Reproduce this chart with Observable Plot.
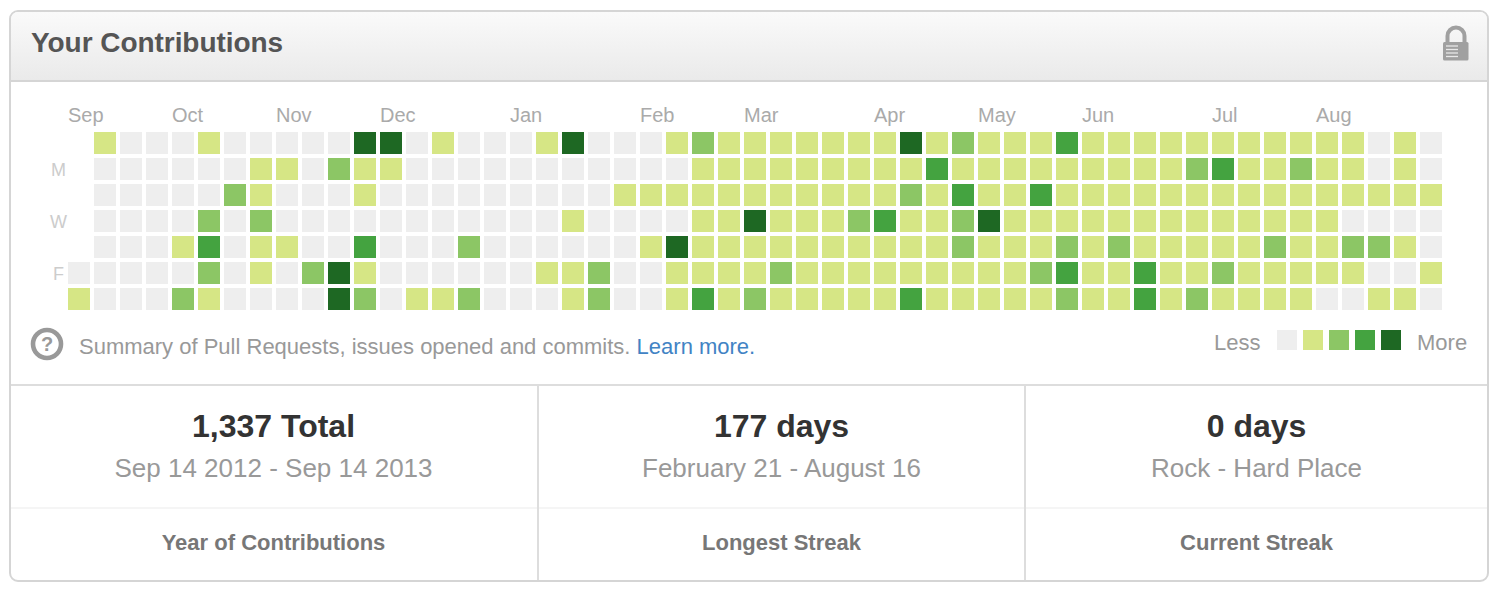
<!DOCTYPE html>
<html>
<head>
<meta charset="utf-8">
<script src="https://cdn.jsdelivr.net/npm/d3@7"></script>
<script src="https://cdn.jsdelivr.net/npm/@observablehq/plot@0.6"></script>
<style>
html,body{margin:0;padding:0;background:#fff;width:1500px;height:594px;overflow:hidden;font-family:"Liberation Sans",Arial,sans-serif;}
#stage{position:absolute;left:0;top:0;width:1500px;height:594px;}
.abs{position:absolute;white-space:nowrap;}
.box{position:absolute;box-sizing:border-box;}
</style>
</head>
<body>
<div id="stage"></div>
<script>
const sun = [null,1,0,0,0,1,0,0,0,0,0,4,4,0,1,0,0,0,1,4,0,0,0,1,2,1,1,1,1,1,1,1,4,1,2,1,1,1,3,1,1,1,1,1,1,1,1,1,1,1,0,1,0];
const mon = [null,0,0,0,0,0,0,1,1,0,2,1,1,0,0,0,0,0,0,0,0,0,0,0,1,1,1,1,1,1,1,1,1,3,1,1,1,1,1,1,1,1,1,2,3,1,1,2,1,1,0,1,0];
const tue = [null,0,0,0,0,0,2,1,0,0,0,1,0,0,0,0,0,0,0,0,0,1,1,1,1,1,1,1,1,1,1,1,2,1,3,1,1,3,1,1,1,1,1,1,1,1,1,1,1,1,1,1,1];
const wed = [null,0,0,0,0,2,0,2,0,0,0,0,0,0,0,0,0,0,0,1,0,0,0,0,1,1,4,1,1,1,2,3,1,1,2,4,1,1,1,1,1,1,1,1,1,1,1,1,1,0,0,0,0];
const thu = [null,0,0,0,1,3,0,1,1,0,0,3,0,0,0,2,0,0,0,0,0,0,1,4,1,1,1,1,1,1,1,1,1,1,2,1,1,1,2,1,2,1,1,1,1,1,2,1,1,2,2,1,0];
const fri = [0,0,0,0,0,2,0,1,0,2,4,1,0,0,0,0,0,0,1,1,2,0,0,1,1,1,1,2,1,1,1,1,1,1,1,1,1,2,3,1,1,3,1,1,2,1,1,1,1,1,0,0,1];
const sat = [1,0,0,0,2,1,0,0,0,0,4,2,0,1,1,2,0,0,0,1,2,0,0,1,3,1,2,1,1,1,1,1,3,1,1,1,1,1,2,1,1,3,1,2,1,1,1,1,0,0,1,1,0];
const weekdays = ["Sun","Mon","Tue","Wed","Thu","Fri","Sat"];
const weekdayTicks = {Mon:"M", Wed:"W", Fri:"F"};
const months = ["Sep","Oct","Nov","Dec","Jan","Feb","Mar","Apr","May","Jun","Jul","Aug"];
const monthWeeks = [0,4,8,12,17,22,26,31,35,39,44,48];
const levels = [0,1,2,3,4];
const levelColors = ["#eeeeee","#d6e685","#8cc665","#44a340","#1e6823"];
const stats = [
  {big:"1,337 Total", sub:"Sep 14 2012 - Sep 14 2013", label:"Year of Contributions", cx:273.5},
  {big:"177 days", sub:"February 21 - August 16", label:"Longest Streak", cx:781.5},
  {big:"0 days", sub:"Rock - Hard Place", label:"Current Streak", cx:1256.5}
];

const stage = document.getElementById("stage");
function box(l,t,w,h,css){const d=document.createElement("div");d.className="box";d.style.cssText+=`left:${l}px;top:${t}px;width:${w}px;height:${h}px;`+(css||"");stage.appendChild(d);return d;}
function label(text,x,yc,size,color,opts={}){
  const d=document.createElement("div");d.className="abs";d.textContent=text;
  const tx=opts.center?"-50%":(opts.right?"-100%":"0");
  d.style.cssText+=`left:${x}px;top:${yc}px;transform:translate(${tx},-50%);font-size:${size}px;color:${color};line-height:1;font-weight:${opts.bold?"bold":"normal"};`+(opts.css||"");
  stage.appendChild(d);return d;
}
// panel chrome
box(9,10,1480,572,"border:2px solid #d5d5d5;border-radius:9px;background:#fff;");
box(11,12,1476,70,"background:linear-gradient(#fafafa,#eaeaea);border-bottom:2px solid #d5d5d5;border-radius:7px 7px 0 0;");
box(11,384,1476,2,"background:#dddddd;");
box(11,507,1476,2,"background:#f5f5f5;");
box(537,386,2,194,"background:#dddddd;");
box(1024,386,2,194,"background:#dddddd;");

label("Your Contributions",31,43,28,"#555555",{bold:true,css:"letter-spacing:-0.05px;"});

// lock icon
const lock=document.createElement("div");lock.className="abs";lock.style.cssText+="left:1440px;top:24px;";
lock.innerHTML=`<svg width="32" height="40" viewBox="0 0 32 40"><path d="M7.5 19 V12 a8.5 8.5 0 0 1 17 0 V19" fill="none" stroke="#a0a0a0" stroke-width="4"/><rect x="3" y="18" width="25.5" height="18.5" rx="1.5" fill="#a0a0a0"/><g stroke="#e8e8e8" stroke-width="1.3"><line x1="6" y1="22" x2="18" y2="22"/><line x1="6" y1="25.5" x2="18" y2="25.5"/><line x1="6" y1="29" x2="18" y2="29"/><line x1="6" y1="32.5" x2="18" y2="32.5"/></g></svg>`;
stage.appendChild(lock);

// heatmap
const rows=[sun,mon,tue,wed,thu,fri,sat];
const cells=rows.flatMap((vals,r)=>vals.map((v,w)=>({week:w,day:weekdays[r],level:v}))).filter(d=>d.level!==null);
const weeks=d3.range(sun.length);
const colorScale={type:"ordinal",domain:levels,range:levelColors};
const chart=Plot.plot({
  width:1500,height:238,
  marginLeft:64,marginRight:54,marginTop:46,marginBottom:6,
  style:{background:"transparent",fontFamily:"'Liberation Sans',Arial,sans-serif",overflow:"visible"},
  x:{type:"band",domain:weeks,padding:4/26,label:null},
  y:{type:"band",domain:weekdays,padding:4/26,label:null},
  color:colorScale,
  marks:[
    Plot.cell(cells,{x:"week",y:"day",fill:"level"}),
    Plot.axisX({anchor:"top",ticks:monthWeeks,tickSize:0,tickPadding:7,label:null,textAnchor:"start",dx:-11.5,fontSize:20,fill:"#aaaaaa",fontVariant:"normal",
      tickFormat:w=>months[monthWeeks.indexOf(w)]}),
    Plot.axisY({anchor:"left",ticks:Object.keys(weekdayTicks),tickSize:0,tickPadding:6,dy:1,label:null,textAnchor:"middle",fontSize:18,fill:"#cccccc",
      tickFormat:d=>weekdayTicks[d]})
  ]
});
chart.style.position="absolute";chart.style.left="0";chart.style.top="82px";chart.style.maxWidth="none";
stage.appendChild(chart);

// footer of graph
const help=document.createElement("div");help.className="abs";help.style.cssText+="left:30px;top:327px;";
help.innerHTML=`<svg width="34" height="34" viewBox="0 0 34 34"><circle cx="17" cy="17" r="14" fill="none" stroke="#999" stroke-width="4.6"/><text x="17" y="24" text-anchor="middle" font-family="Liberation Sans" font-weight="bold" font-size="20" fill="#999">?</text></svg>`;
stage.appendChild(help);
const summary=label("Summary of Pull Requests, issues opened and commits. ",79,347,22,"#999999",{css:"white-space:pre;"});
const learn=document.createElement("span");learn.textContent="Learn more.";learn.style.color="#4183c4";summary.appendChild(learn);

label("Less",1214,343,22,"#999999");
label("More",1417,343,22,"#999999");
const legend=Plot.plot({
  width:150,height:20,marginLeft:0,marginRight:150-26.25*(5+6/26.25),marginTop:0,marginBottom:0,
  style:{background:"transparent"},
  x:{type:"band",domain:levels,padding:6/26.25,axis:null},
  color:colorScale,
  marks:[Plot.cell(levels,{x:d=>d,fill:d=>d})]
});
legend.style.position="absolute";legend.style.left="1270px";legend.style.top="330px";
stage.appendChild(legend);

// stats
for(const s of stats){
  label(s.big,s.cx,426,32,"#333333",{bold:true,center:true});
  label(s.sub,s.cx,468,26,"#999999",{center:true});
  label(s.label,s.cx,543,22,"#777777",{bold:true,center:true});
}
</script>
</body>
</html>
